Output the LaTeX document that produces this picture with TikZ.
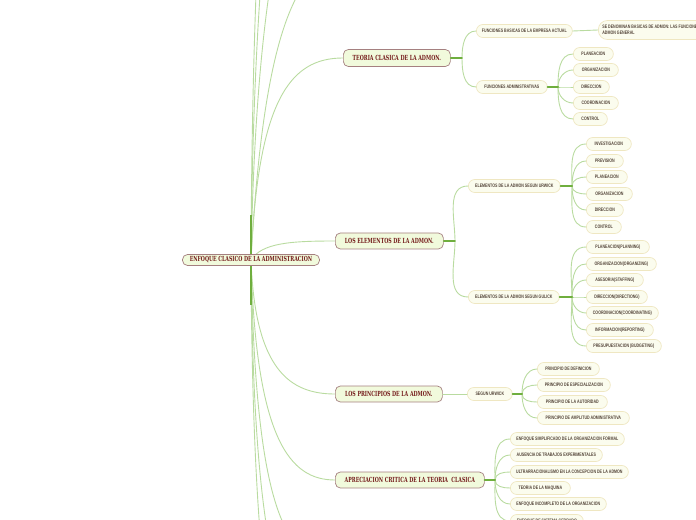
\documentclass[tikz,border=0pt]{standalone}
\usepackage{fontspec}
\setmainfont{Liberation Sans}
\newfontfamily\topicfont[FakeStretch=0.67]{DejaVu Serif}
\newfontfamily\leaffont[FakeStretch=0.72]{Liberation Sans}
\usetikzlibrary{backgrounds}
\definecolor{mmgreen}{HTML}{B9DBA0}
\definecolor{mmstub}{HTML}{6FAE3E}
\definecolor{mmtopic}{HTML}{F1FADC}
\definecolor{mmedge}{HTML}{A58080}
\definecolor{mmtext}{HTML}{741B1B}
\definecolor{mmleaf}{HTML}{FBFCEE}
\definecolor{mmleafedge}{HTML}{EFE7C2}
\definecolor{mmleaftext}{HTML}{55463A}
\tikzset{
  every picture/.style={line cap=round, line join=round},
  topic/.style={draw=mmedge, fill=mmtopic, rounded corners=5bp, line width=0.7bp,
    anchor=west, minimum height=16bp, inner xsep=5bp, inner ysep=0pt, text=mmtext,
    font=\topicfont\bfseries\fontsize{7bp}{8bp}\selectfont},
  leaf/.style={draw=mmleafedge, fill=mmleaf, rounded corners=6.5bp, line width=0.7bp,
    anchor=west, minimum height=13bp, inner xsep=4bp, inner ysep=0pt, text=mmleaftext,
    font=\leaffont\bfseries\fontsize{5bp}{6.2bp}\selectfont},
  % connectors: thin light branches, short dark stubs at the fork points
  link/.style={mmgreen, line width=0.9bp},
  stub/.style={mmstub, line width=2bp},
}

\begin{document}
\begin{tikzpicture}[x=1bp, y=-1bp]
  \useasboundingbox (0,0) rectangle (696,520);
  % root and main topics
  \node[topic, anchor=center, minimum width=137bp, minimum height=11bp] (root) at (251,260) {ENFOQUE CLASICO DE LA ADMINISTRACION};
  \node[topic, minimum width=107bp, minimum height=17bp] (teoria) at (343,58) {TEORIA CLASICA DE LA ADMON.};
  \node[topic, minimum width=108bp] (elementos) at (335,241) {LOS ELEMENTOS DE LA ADMON.};
  \node[topic, minimum width=107bp] (principios) at (335,394) {LOS PRINCIPIOS DE LA ADMON.};
  \node[topic, minimum width=149bp] (critica) at (335,480) {APRECIACION CRITICA DE LA TEORIA\ \ CLASICA};
  \coordinate (s1) at (462,58);
  \coordinate (s2) at (558,87);
  \coordinate (s3) at (455,241);
  \coordinate (s4) at (572,186);
  \coordinate (s5) at (572,297);
  \coordinate (s6) at (522,394);
  \coordinate (s7) at (495,480);
  % branches leaving the picture
  \coordinate (up1) at (345,-40);
  \coordinate (up2) at (345,-180);
  \coordinate (up3) at (345,-330);
  \coordinate (up4) at (345,-480);
  \coordinate (lo1) at (345,565);
  \coordinate (lo2) at (345,650);
  \coordinate (lo3) at (345,760);

  % teoria clasica
  \node[leaf, minimum width=96bp] (basicas) at (476,31) {FUNCIONES BASICAS DE LA EMPRESA ACTUAL};
  \node[leaf, minimum width=71bp] (funadm) at (476,87) {FUNCIONES ADMINISTRATIVAS};
  \node[leaf, align=left, minimum width=105bp, minimum height=19bp, rounded corners=9bp] (nota) at (598,30) {SE DENOMINAN BASICAS DE ADMON: LAS FUNCIONES DE\\ADMON GENERAL};
  \draw[link] (s1) to[out=90, in=180] (basicas.west);
  \draw[link] (s1) to[out=-90, in=180] (funadm.west);
  \draw[link] (basicas.east) -- (nota.west);
  \foreach \n/\y/\w/\o/\t in {1/54/40/90/PLANEACION, 2/70/45/90/ORGANIZACION, 3/87/36/0/DIRECCION,
      4/103/45/-90/COORDINACION, 5/119/34/-90/CONTROL}{
    \node[leaf, minimum width=\w bp] (fa\n) at (573,\y) {\t};
    \draw[link] (s2) to[out=\o, in=180] (fa\n.west);
  }
  \draw[stub, line width=1.5bp] (teoria.east) -- (s1);
  \draw[stub] (funadm.east) -- (s2);

  % elementos
  \node[leaf, minimum width=92bp] (urwick) at (468,186) {ELEMENTOS DE LA ADMON SEGUN URWICK};
  \node[leaf, minimum width=91bp] (gulick) at (468,297) {ELEMENTOS DE LA ADMON SEGUN GULICK};
  \draw[link] (s3) to[out=90, in=180] (urwick.west);
  \draw[link] (s3) to[out=-90, in=180] (gulick.west);
  \foreach \n/\y/\w/\o/\t in {1/144/45/90/INVESTIGACION, 2/161/37/90/PREVISION, 3/177/41/90/PLANEACION,
      4/194/46/-90/ORGANIZACION, 5/210/37/-90/DIRECCION, 6/227/35/-90/CONTROL}{
    \node[leaf, minimum width=\w bp] (ur\n) at (586,\y) {\t};
    \draw[link] (s4) to[out=\o, in=180] (ur\n.west);
  }
  \foreach \n/\y/\w/\o/\t in {1/247/63/90/PLANEACION(PLANNING), 2/264/70/90/ORGANIZACION(ORGANIZING),
      3/280/57/90/ASESORIA(STAFFING), 4/297/61/0/DIRECCION(DIRECTIONG),
      5/313/72/-90/COORDINACION(COORDINATING), 6/330/67/-90/INFORMACION(REPORTING),
      7/346/75/-90/PRESUPUESTACION (BUDGETING)}{
    \node[leaf, minimum width=\w bp] (gu\n) at (586,\y) {\t};
    \draw[link] (s5) to[out=\o, in=180] (gu\n.west);
  }
  \draw[stub, line width=1.5bp] (elementos.east) -- (s3);
  \draw[stub] (urwick.east) -- (s4);
  \draw[stub] (gulick.east) -- (s5);

  % principios
  \node[leaf, minimum width=45bp] (segun) at (467,394) {SEGUN URWICK};
  \draw[link] (principios.east) -- (segun.west);
  \foreach \n/\y/\w/\o/\t in {1/369/62/90/PRINCIPIO DE DEFINICION, 2/385/73/90/PRINCIPIO DE ESPECIALIZACION,
      3/402/70/-90/PRINCIPIO DE LA AUTORIDAD, 4/418/92/-90/PRINCIPIO DE AMPLITUD ADMINISTRATIVA}{
    \node[leaf, minimum width=\w bp] (pr\n) at (537,\y) {\t};
    \draw[link] (s6) to[out=\o, in=180] (pr\n.west);
  }
  \draw[stub] (segun.east) -- (s6);

  % apreciacion critica
  \foreach \n/\y/\w/\o/\t in {1/439/114/90/ENFOQUE SIMPLIFICADO DE LA ORGANIZACION FORMAL,
      2/455/92/90/AUSENCIA DE TRABAJOS EXPERIMENTALES,
      3/472/118/90/ULTRARRACIONALISMO EN LA CONCEPCION DE LA ADMON,
      4/488/60/-90/TEORIA DE LA MAQUINA, 5/504/96/-90/ENFOQUE INCOMPLETO DE LA ORGANIZACION,
      6/521/73/-90/ENFOQUE DE SISTEMA CERRADO}{
    \node[leaf, minimum width=\w bp] (ap\n) at (510,\y) {\t};
    \draw[link] (s7) to[out=\o, in=180] (ap\n.west);
  }
  \draw[stub] (critica.east) -- (s7);

  % branches from the root
  \begin{scope}[on background layer]
    \draw[link] (root.center) .. controls (262,60) and (290,-40) .. (up1);
    \draw[link] (root.center) .. controls (256,-20) and (290,-180) .. (up2);
    \draw[link] (root.center) .. controls (254,-120) and (290,-330) .. (up3);
    \draw[link] (root.center) .. controls (253,-250) and (290,-480) .. (up4);
    \draw[link] (root.center) .. controls (258,100) and (290,58) .. (teoria.west);
    \draw[link] (root.center) .. controls (262,243) and (290,241) .. (elementos.west);
    \draw[link] (root.center) .. controls (255,370) and (290,394) .. (principios.west);
    \draw[link] (root.center) .. controls (256,440) and (290,480) .. (critica.west);
    \draw[link] (root.center) .. controls (256,530) and (290,565) .. (lo1);
    \draw[link] (root.center) .. controls (254,600) and (290,650) .. (lo2);
    \draw[link] (root.center) .. controls (253,680) and (290,760) .. (lo3);
    \draw[stub] (251,215) -- (251,305);
  \end{scope}
\end{tikzpicture}
\end{document}
